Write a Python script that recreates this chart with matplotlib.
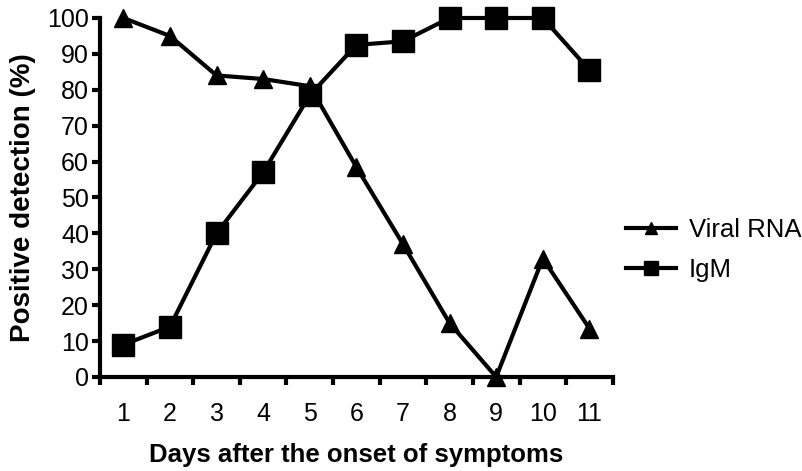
import matplotlib
matplotlib.use("Agg")
import matplotlib.pyplot as plt
import numpy as np

plt.rcParams["font.family"] = ["Liberation Sans", "DejaVu Sans"]

days = [1, 2, 3, 4, 5, 6, 7, 8, 9, 10, 11]
viral_rna = [100, 95, 84, 83, 81, 58.5, 37, 15, 0, 33, 13.5]
igm = [9, 14, 40, 57, 78.5, 92.5, 93.5, 100, 100, 100, 85.5]
y_ticks = list(range(0, 101, 10))

fig = plt.figure(figsize=(8.02, 4.71), dpi=100)
ax = fig.add_axes([0.1247, 0.1996, 0.764 - 0.1247, 0.9618 - 0.1996])

ax.plot(days, viral_rna, color="black", lw=3, marker="^", ms=13.5,
        label="Viral RNA", clip_on=False, zorder=3)
ax.plot(days, igm, color="black", lw=3, marker="s", ms=15.5,
        label="IgM", clip_on=False, zorder=3)

ax.set_xlim(0.5, 11.5)
ax.set_ylim(0, 100)

# labels at the day centres, tick marks between them
ax.set_xticks(days)
ax.set_xticklabels([str(d) for d in days])
ax.set_xticks(np.arange(0.5, 12, 1.0), minor=True)
ax.tick_params(axis="x", which="major", length=0, pad=18, labelsize=18)
ax.tick_params(axis="x", which="minor", length=6, width=3, direction="out")
ax.set_yticks(y_ticks)
ax.tick_params(axis="y", length=6, width=3, pad=2, labelsize=18)

for side in ("top", "right"):
    ax.spines[side].set_visible(False)
for side in ("left", "bottom"):
    ax.spines[side].set_linewidth(3)

ax.set_xlabel("Days after the onset of symptoms", fontsize=18.5,
              fontweight="bold", labelpad=12)
ax.set_ylabel("Positive detection (%)", fontsize=20, fontweight="bold",
              labelpad=8)

ax.legend(loc="center left", bbox_to_anchor=(1.01, 0.354), frameon=False,
          fontsize=18.5, handlelength=1.95, handletextpad=0.5,
          labelspacing=0.6, borderaxespad=0.0, borderpad=0.3,
          markerscale=0.68)

fig.savefig("out.png", dpi=100)
